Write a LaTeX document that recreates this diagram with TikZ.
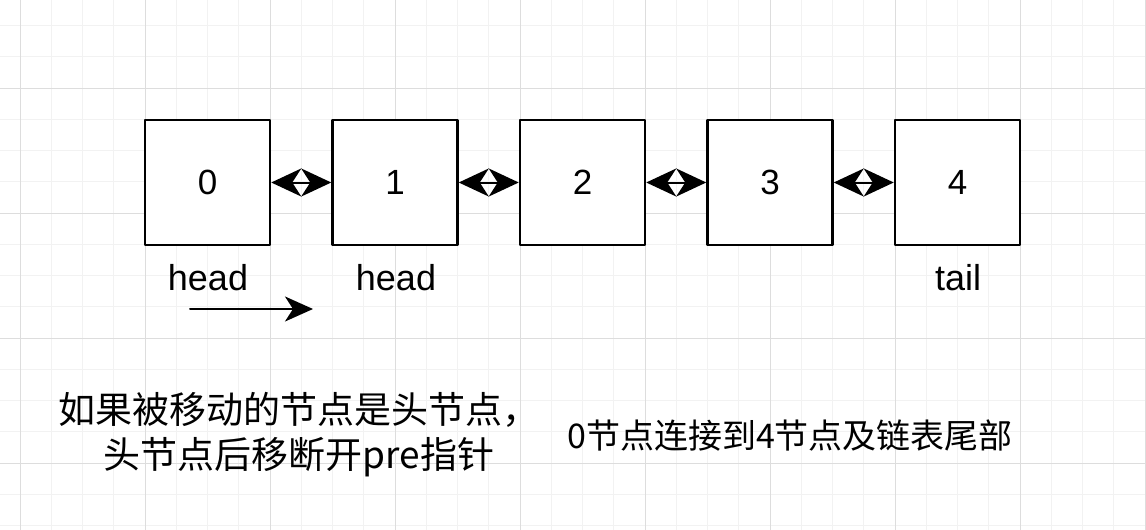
\documentclass[tikz,border=0pt]{standalone}
\usepackage{fontspec}
\setmainfont{Liberation Sans}
\newfontfamily\cjk{Noto Sans CJK SC}
\usetikzlibrary{arrows.meta,positioning}
\definecolor{gridminor}{HTML}{F2F2F2}
\definecolor{gridmajor}{HTML}{DDDDDD}
\tikzset{
  listbox/.style={draw,line width=2.5pt,minimum size=125pt,inner sep=0pt,font=\fontsize{35}{40}\selectfont},
  link/.style={{Stealth[length=30pt,width=28pt,inset=9pt]}-{Stealth[length=30pt,width=28pt,inset=9pt]},line width=2pt},
  ptrlabel/.style={font=\fontsize{36}{40}\selectfont},
  note/.style={font=\cjk\fontsize{34}{45}\selectfont,align=center}
}
\begin{document}
\begin{tikzpicture}[line cap=round,line join=round,x=1pt,y=-1pt]
\useasboundingbox[fill=white] (0,0) rectangle (1146,530);
\foreach \k in {0,...,37} \draw[gridminor,line width=1pt] (-11.25+31.25*\k,0) -- (-11.25+31.25*\k,530);
\foreach \k in {0,...,17} \draw[gridminor,line width=1pt] (0,-5.75+31.25*\k) -- (1146,-5.75+31.25*\k);
\foreach \k in {0,...,9} \draw[gridmajor,line width=1pt] (20+125*\k,0) -- (20+125*\k,530);
\foreach \k in {0,...,3} \draw[gridmajor,line width=1pt] (0,88+125*\k) -- (1146,88+125*\k);
\foreach \i in {0,...,4}
  \node[listbox,fill=white] (n\i) at (207.5+187.5*\i,182.5) {\i};
\foreach \i/\j in {0/1,1/2,2/3,3/4}
  \draw[link] (n\i.east) -- (n\j.west);
\node[ptrlabel] (head0) at (208,278) {head};
\node[ptrlabel] (head1) at (396,278) {head};
\node[ptrlabel] (tail) at (958,278) {tail};
\coordinate (mvs) at (190,309);
\coordinate (mve) at (313,309);
\draw[-{Stealth[length=28pt,width=25pt,inset=8pt]},line width=2pt] (mvs) -- (mve);
\node[note,font=\cjk\fontsize{37}{45}\selectfont] (leftnote) at (299,435) {如果被移动的节点是头节点，\\头节点后移断开pre指针};
\node[note] (rightnote) at (790,436) {0节点连接到4节点及链表尾部};
\end{tikzpicture}
\end{document}
